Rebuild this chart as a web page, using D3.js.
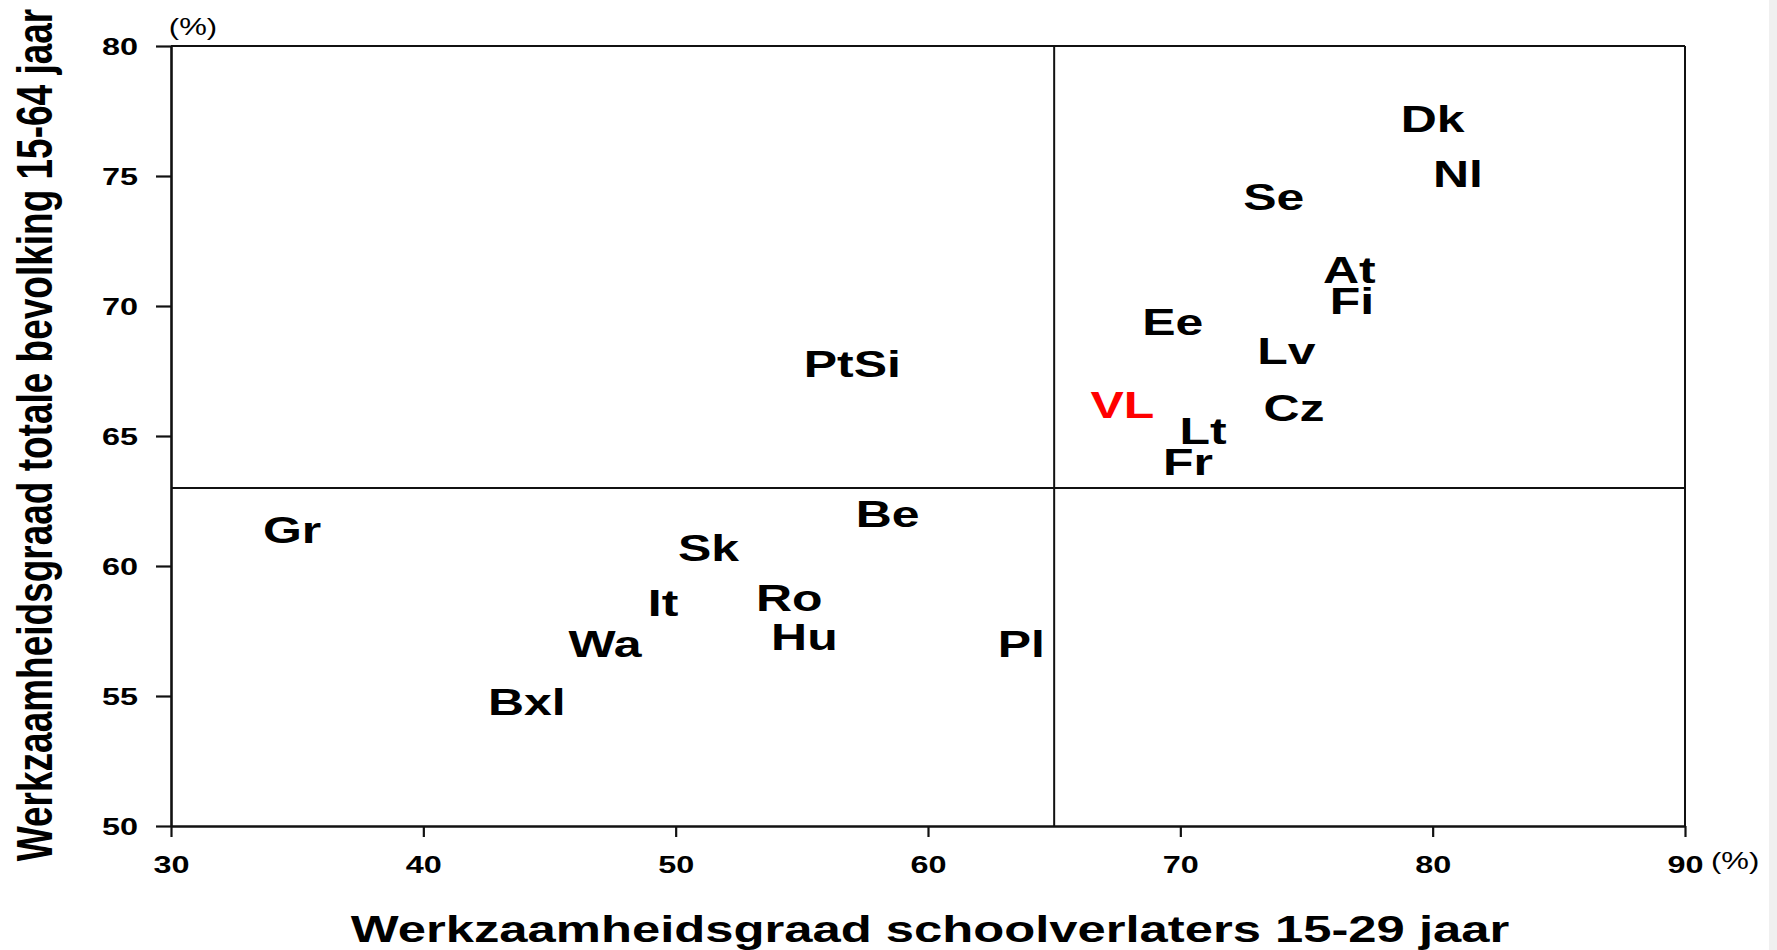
<!DOCTYPE html>
<html>
<head>
<meta charset="utf-8">
<script src="https://cdn.jsdelivr.net/npm/d3@7"></script>
<style>
  html, body { margin: 0; padding: 0; background: #ffffff; }
  svg { display: block; }
  text { font-family: "Liberation Sans", Arial, sans-serif; }
</style>
</head>
<body>
<script>
// ---- data ----
const countries = ["Dk","Nl","Se","At","Fi","Ee","Lv","PtSi","VL","Cz","Lt","Fr","Be","Gr","Sk","It","Ro","Hu","Pl","Wa","Bxl"];
const schoolLeavers = [80.0,81.0,73.7,76.7,76.8,69.7,74.2,57.0,67.7,74.5,70.9,70.3,58.4,34.8,51.3,49.5,54.5,55.1,63.7,47.2,44.1];
const totalPop      = [77.2,75.1,74.2,71.4,70.2,69.4,68.3,67.8,66.2,66.1,65.2,64.0,62.0,61.4,60.7,58.6,58.8,57.3,57.0,57.0,54.8];
const highlight     = ["VL"];
const xTicks = [30,40,50,60,70,80,90];
const yTicks = [50,55,60,65,70,75,80];
const xDomain = [30,90];
const yDomain = [50,80];
const xSplit = 65;
const ySplit = 63;
const xTitle = "Werkzaamheidsgraad schoolverlaters 15-29 jaar";
const yTitle = "Werkzaamheidsgraad totale bevolking 15-64 jaar";
const unitLabel = "(%)";

// ---- layout ----
const W = 1777, H = 950;
const pLeft = 171, pRight = 1685, pTop = 46, pBottom = 826;
const SX = 1.35; // horizontal stretch of the original text

const svg = d3.select("body").append("svg").attr("width", W).attr("height", H);
svg.append("rect").attr("width", W).attr("height", H).attr("fill", "#ffffff");
svg.append("rect").attr("x", 1769).attr("y", 0).attr("width", 8).attr("height", H).attr("fill", "#f0f0f0");

const x = d3.scaleLinear().domain(xDomain).range([pLeft, pRight]);
const y = d3.scaleLinear().domain(yDomain).range([pBottom, pTop]);

// frame top and right
svg.append("line").attr("x1", x(xDomain[0])).attr("x2", x(xDomain[1])).attr("y1", y(yDomain[1])).attr("y2", y(yDomain[1]))
  .attr("stroke", "#111").attr("stroke-width", 2);
svg.append("line").attr("x1", x(xDomain[1])).attr("x2", x(xDomain[1])).attr("y1", y(yDomain[1])).attr("y2", y(yDomain[0]))
  .attr("stroke", "#111").attr("stroke-width", 2);

// quadrant lines
svg.append("line").attr("x1", x(xSplit)).attr("x2", x(xSplit)).attr("y1", y(yDomain[1])).attr("y2", y(yDomain[0]))
  .attr("stroke", "#111").attr("stroke-width", 2);
svg.append("line").attr("x1", x(xDomain[0])).attr("x2", x(xDomain[1])).attr("y1", y(ySplit)).attr("y2", y(ySplit))
  .attr("stroke", "#111").attr("stroke-width", 2);

// axes
const gx = svg.append("g").attr("transform", `translate(0,${pBottom})`)
  .call(d3.axisBottom(x).tickValues(xTicks).tickSize(11).tickSizeOuter(0).tickFormat(d3.format("d")));
const gy = svg.append("g").attr("transform", `translate(${pLeft},0)`)
  .call(d3.axisLeft(y).tickValues(yTicks).tickSize(15).tickSizeOuter(0).tickFormat(d3.format("d")));

[gx, gy].forEach(g => {
  g.select(".domain").attr("stroke", "#111").attr("stroke-width", 2.6);
  g.selectAll(".tick line").attr("stroke", "#111").attr("stroke-width", 2.2);
  g.selectAll(".tick text").attr("fill", "#000").attr("font-size", 24).attr("font-weight", "bold")
    .attr("font-family", "'Liberation Sans', Arial, sans-serif");
});
gx.selectAll(".tick text").attr("y", 0).attr("dy", 0).attr("x", 0)
  .attr("transform", `translate(0,47) scale(${SX},1)`);
gy.selectAll(".tick text").attr("x", 0).attr("dy", "0.36em").attr("text-anchor", "end")
  .attr("transform", `translate(-33,0) scale(${SX},1)`);

// unit labels
svg.append("text").attr("transform", `translate(193,35) scale(${SX},1)`).attr("text-anchor", "middle")
  .attr("font-size", 23).attr("fill", "#000").text(unitLabel);
svg.append("text").attr("transform", `translate(1711,869) scale(${SX},1)`).attr("text-anchor", "start")
  .attr("font-size", 23).attr("fill", "#000").text(unitLabel);

// axis titles
svg.append("text").attr("transform", `translate(930,942) scale(${SX},1)`).attr("text-anchor", "middle")
  .attr("font-size", 37.6).attr("font-weight", "bold").attr("fill", "#000").text(xTitle);
svg.append("text").attr("transform", `translate(52,435) rotate(-90) scale(1,${SX})`).attr("text-anchor", "middle")
  .attr("font-size", 37).attr("font-weight", "bold").attr("fill", "#000").text(yTitle);

// point labels
const pts = countries.map((c, i) => ({c, vx: schoolLeavers[i], vy: totalPop[i]}));
svg.append("g").selectAll("text").data(pts).join("text")
  .attr("transform", d => `translate(${x(d.vx)},${y(d.vy)}) scale(${SX},1)`)
  .attr("text-anchor", "middle").attr("dy", "0.36em")
  .attr("font-size", 37).attr("font-weight", "bold")
  .attr("fill", d => highlight.includes(d.c) ? "#ff0000" : "#000")
  .text(d => d.c);
</script>
</body>
</html>
